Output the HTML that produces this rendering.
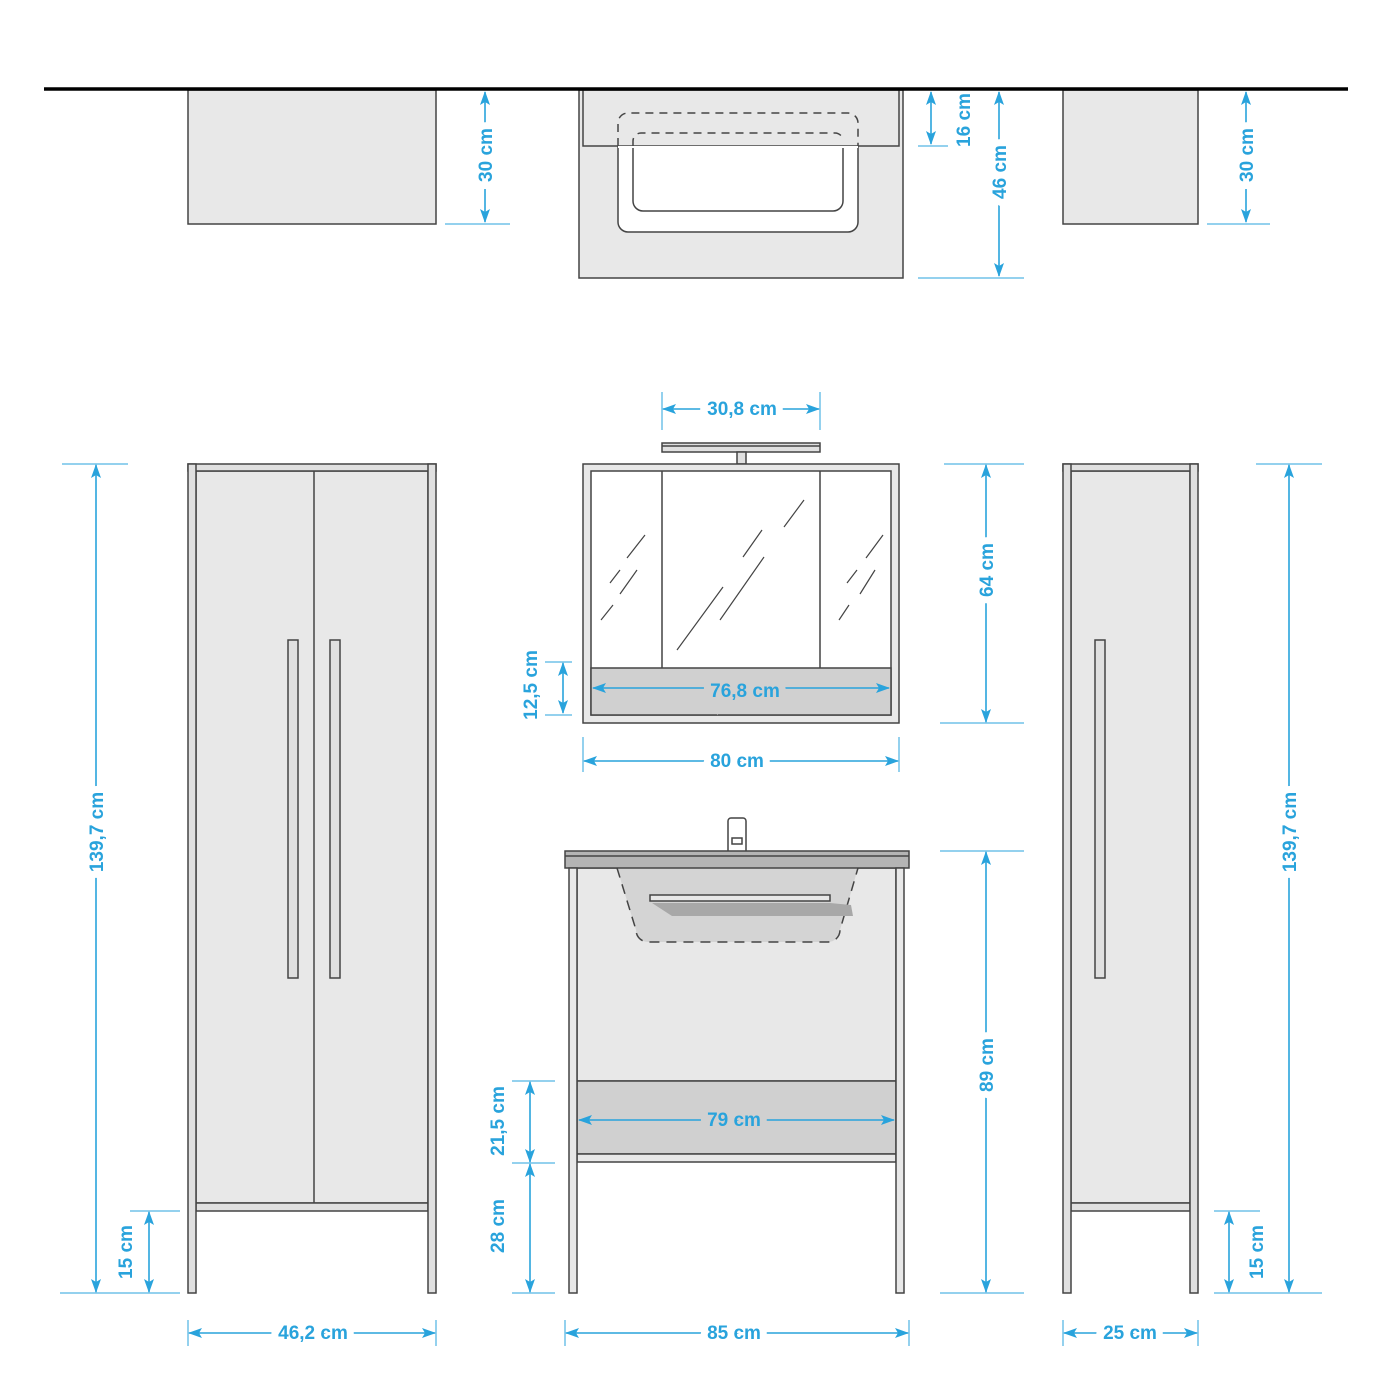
<!DOCTYPE html>
<html><head><meta charset="utf-8"><style>
html,body{margin:0;padding:0;background:#fff;}
svg{display:block;}
text{font-family:"Liberation Sans",sans-serif;font-weight:bold;font-size:19px;fill:#29a3dc;}
</style></head><body>
<svg width="1392" height="1392" viewBox="0 0 1392 1392" xmlns="http://www.w3.org/2000/svg">
<defs>
<marker id="a" viewBox="0 0 14 10" refX="13" refY="5" markerWidth="14" markerHeight="10" markerUnits="userSpaceOnUse" orient="auto-start-reverse">
<path d="M0,0 L14,5 L0,10 L3,5 Z" fill="#29a3dc"/></marker>
</defs>
<g fill="none" stroke="#444" stroke-width="1.5">
<!-- top row -->
<rect x="188" y="90" width="248" height="134" fill="#e8e8e8"/>
<rect x="579" y="90" width="324" height="188" fill="#e8e8e8"/>
<rect x="583" y="90" width="316" height="56" fill="#e8e8e8"/>
<path d="M618,146 V222 a10,10 0 0 0 10,10 H848 a10,10 0 0 0 10,-10 V146" fill="#fff"/>
<path d="M633,146 V201 a10,10 0 0 0 10,10 H833 a10,10 0 0 0 10,-10 V146 Z" fill="#fff" stroke="none"/>
<path d="M633,146 V201 a10,10 0 0 0 10,10 H833 a10,10 0 0 0 10,-10 V146"/>
<rect x="618" y="146" width="240" height="2" fill="#fff" stroke="none"/>
<path d="M618,146 V123 a10,10 0 0 1 10,-10 H848 a10,10 0 0 1 10,10 V146" stroke-dasharray="8,6"/>
<path d="M633,146 V141 a8,8 0 0 1 8,-8 H835 a8,8 0 0 1 8,8" stroke-dasharray="8,6"/>
<rect x="1063" y="90" width="135" height="134" fill="#e8e8e8"/>

<!-- left tall cabinet -->
<rect x="196" y="471" width="232" height="732" fill="#e8e8e8"/>
<line x1="314" y1="471" x2="314" y2="1203"/>
<rect x="188" y="464" width="248" height="7" fill="#e0e0e0"/>
<rect x="196" y="1203" width="232" height="8" fill="#e0e0e0"/>
<rect x="188" y="464" width="8" height="829" fill="#e0e0e0"/>
<rect x="428" y="464" width="8" height="829" fill="#e0e0e0"/>
<rect x="288" y="640" width="10" height="338" fill="#e0e0e0"/>
<rect x="330" y="640" width="10" height="338" fill="#e0e0e0"/>

<!-- mirror cabinet -->
<rect x="662" y="443" width="158" height="9" fill="#e0e0e0"/>
<line x1="662" y1="446" x2="820" y2="446"/>
<rect x="737" y="452" width="9" height="12" fill="#e0e0e0"/>
<rect x="583" y="464" width="316" height="259" fill="#e8e8e8"/>
<rect x="591" y="471" width="300" height="244" fill="#fff"/>
<line x1="662" y1="471" x2="662" y2="668"/>
<line x1="820" y1="471" x2="820" y2="668"/>
<rect x="591" y="668" width="300" height="47" fill="#d0d0d0"/>
<g stroke-width="1.2">
<path d="M645,535 L627,558 M637,570 L620,594 M620,570 L610,583 M613,605 L601,620"/>
<path d="M804,500 L784,527 M762,530 L743,557 M764,557 L720,620 M723,587 L677,650"/>
<path d="M883,535 L866,558 M875,570 L860,594 M857,570 L847,583 M849,605 L839,620"/>
</g>

<!-- vanity -->
<rect x="577" y="868" width="319" height="213" fill="#e8e8e8"/>
<path d="M617,868 L636,930 a12,12 0 0 0 12,12 H828 a12,12 0 0 0 12,-12 L858,868 Z" fill="#d4d4d4" stroke="none"/>
<path d="M617,868 L636,930 a12,12 0 0 0 12,12 H828 a12,12 0 0 0 12,-12 L858,868" stroke-dasharray="10,7"/>
<path d="M652,903 L672,916 H853 L851,905 L830,903 Z" fill="#a8a8a8" stroke="none"/>
<rect x="650" y="895" width="180" height="6" fill="#e8e8e8"/>
<rect x="577" y="1081" width="319" height="73" fill="#d0d0d0"/>
<rect x="577" y="1154" width="319" height="8" fill="#e8e8e8"/>
<rect x="728" y="818" width="18" height="37" rx="3" fill="#fff"/>
<rect x="732" y="838" width="10" height="6" fill="#fff"/>
<rect x="565" y="851" width="344" height="17" fill="#b4b4b4"/>
<line x1="565" y1="856" x2="909" y2="856"/>
<rect x="569" y="868" width="8" height="425" fill="#e8e8e8"/>
<rect x="896" y="868" width="8" height="425" fill="#e8e8e8"/>

<!-- right cabinet -->
<rect x="1071" y="471" width="119" height="732" fill="#e8e8e8"/>
<rect x="1063" y="464" width="135" height="7" fill="#e0e0e0"/>
<rect x="1071" y="1203" width="119" height="8" fill="#e0e0e0"/>
<rect x="1063" y="464" width="8" height="829" fill="#e0e0e0"/>
<rect x="1190" y="464" width="8" height="829" fill="#e0e0e0"/>
<rect x="1095" y="640" width="10" height="338" fill="#e0e0e0"/>
</g>

<line x1="44" y1="89" x2="1348" y2="89" stroke="#000" stroke-width="3.5"/>

<!-- dimension lines -->
<g stroke="#29a3dc" stroke-width="1.6" fill="none">
<!-- extension lines -->
<g stroke-width="1">
<path d="M445,224H510 M918,146H948 M918,278H1024 M1207,224H1270"/>
<path d="M62,464H128 M60,1293H180 M130,1211H180 M188,1320V1346 M436,1320V1346"/>
<path d="M662,392V430 M820,392V430 M545,662H572 M545,715H572 M583,737V772 M899,737V772 M944,464H1024 M940,723H1024"/>
<path d="M940,851H1024 M940,1293H1024 M512,1081H555 M512,1163H555 M512,1293H555 M565,1320V1346 M909,1320V1346"/>
<path d="M1256,464H1322 M1214,1293H1322 M1214,1211H1260 M1063,1320V1346 M1198,1320V1346"/>
</g>
<g marker-start="url(#a)" marker-end="url(#a)">
<line x1="485" y1="92" x2="485" y2="222"/>
<line x1="931" y1="92" x2="931" y2="144"/>
<line x1="999" y1="92" x2="999" y2="276"/>
<line x1="1246" y1="92" x2="1246" y2="222"/>
<line x1="96" y1="465" x2="96" y2="1292"/>
<line x1="149" y1="1212" x2="149" y2="1292"/>
<line x1="189" y1="1333" x2="435" y2="1333"/>
<line x1="663" y1="409" x2="819" y2="409"/>
<line x1="563" y1="663" x2="563" y2="713"/>
<line x1="593" y1="688" x2="889" y2="688"/>
<line x1="584" y1="761" x2="898" y2="761"/>
<line x1="986" y1="465" x2="986" y2="722"/>
<line x1="986" y1="852" x2="986" y2="1292"/>
<line x1="579" y1="1120" x2="894" y2="1120"/>
<line x1="530" y1="1082" x2="530" y2="1162"/>
<line x1="530" y1="1164" x2="530" y2="1292"/>
<line x1="566" y1="1333" x2="908" y2="1333"/>
<line x1="1289" y1="465" x2="1289" y2="1292"/>
<line x1="1229" y1="1212" x2="1229" y2="1292"/>
<line x1="1064" y1="1333" x2="1197" y2="1333"/>
</g>
</g>

<!-- labels -->
<g paint-order="stroke" stroke="#fff" stroke-width="14" text-anchor="middle">
<text transform="translate(492,155) rotate(-90)">30 cm</text>
<text transform="translate(970,120) rotate(-90)" stroke-width="0">16 cm</text>
<text transform="translate(1006,172) rotate(-90)">46 cm</text>
<text transform="translate(1253,155) rotate(-90)">30 cm</text>
<text transform="translate(103,832) rotate(-90)">139,7 cm</text>
<text transform="translate(132,1252) rotate(-90)" stroke-width="0">15 cm</text>
<text x="313" y="1339">46,2 cm</text>
<text x="742" y="415">30,8 cm</text>
<text transform="translate(537,685) rotate(-90)" stroke-width="0">12,5 cm</text>
<text x="745" y="697" stroke="#d0d0d0">76,8 cm</text>
<text x="737" y="767">80 cm</text>
<text transform="translate(993,570) rotate(-90)">64 cm</text>
<text transform="translate(993,1065) rotate(-90)">89 cm</text>
<text x="734" y="1126" stroke="#d0d0d0">79 cm</text>
<text transform="translate(504,1121) rotate(-90)" stroke-width="0">21,5 cm</text>
<text transform="translate(504,1226) rotate(-90)" stroke-width="0">28 cm</text>
<text x="734" y="1339">85 cm</text>
<text transform="translate(1296,832) rotate(-90)">139,7 cm</text>
<text transform="translate(1263,1252) rotate(-90)" stroke-width="0">15 cm</text>
<text x="1130" y="1339">25 cm</text>
</g>
</svg>
</body></html>
